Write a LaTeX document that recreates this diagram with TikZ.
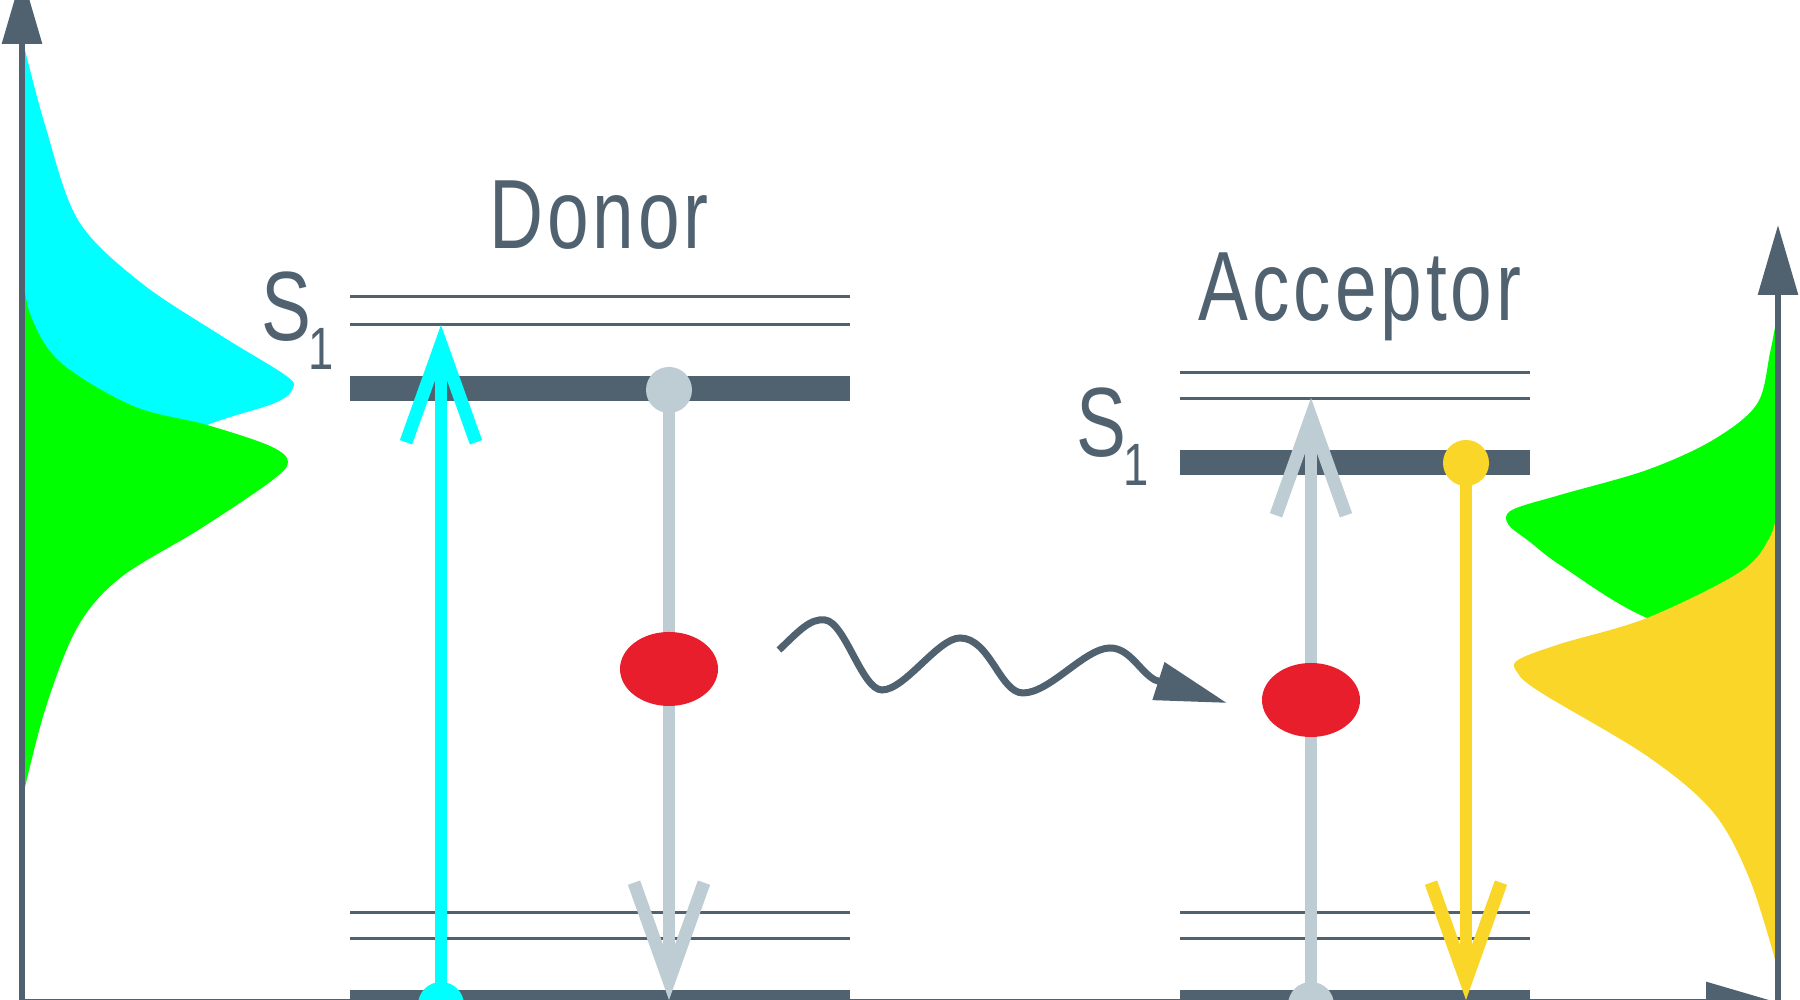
\documentclass[tikz,border=0pt]{standalone}
\usepackage{fontspec}
\setmainfont[FakeStretch=0.76,LetterSpace=4]{Liberation Sans}
\usetikzlibrary{arrows.meta}
\definecolor{slate}{HTML}{506270}
\definecolor{mist}{HTML}{BECCD4}
\definecolor{aqua}{HTML}{00FFFF}
\definecolor{specgreen}{HTML}{00FF00}
\definecolor{sun}{HTML}{F9D627}
\definecolor{blob}{HTML}{E81E2D}

\begin{document}
\begin{tikzpicture}[line join=miter,
  vib/.style={slate,line width=0.03cm},
  band/.style={slate,line width=0.25cm},
  ordinate/.style={slate,line width=0.06cm,-{Triangle[length=0.70cm,width=0.39cm]}},
  trans/.style={line width=0.12cm,-{Straight Barb[length=0.98cm,width=0.70cm,line width'=0.13cm]}},
  bead/.style={circle,inner sep=0pt,minimum size=0.46cm},
  big/.style={text=slate,inner sep=0pt,font=\fontsize{28}{28}\selectfont}]
  \useasboundingbox (0,0) rectangle (18,10);
  \clip (0,0) rectangle (18,10);

  % donor spectra (absorption, emission)
  \fill[aqua] plot[smooth,tension=0.55] coordinates {(0.22,9.62) (0.45,8.75) (0.78,7.80)
    (1.40,7.18) (2.20,6.65) (2.85,6.25) (2.93,6.12) (2.75,5.97) (2.07,5.75) (1.00,5.30)
    (0.22,4.50)} -- cycle;
  \fill[specgreen] plot[smooth,tension=0.55] coordinates {(0.22,7.35) (0.30,6.86) (0.60,6.38)
    (1.33,5.94) (2.07,5.75) (2.70,5.54) (2.88,5.38) (2.70,5.18) (2.00,4.71) (1.20,4.22)
    (0.77,3.72) (0.45,2.90) (0.22,2.00)} -- cycle;

  % acceptor spectra
  \fill[specgreen] plot[smooth,tension=0.55] coordinates {(17.78,6.90) (17.70,6.47) (17.57,5.96)
    (17.13,5.60) (16.47,5.30) (15.60,5.05) (15.12,4.90) (15.08,4.76) (15.30,4.58) (15.63,4.33)
    (16.47,3.82) (17.78,3.40)} -- cycle;
  \fill[sun] plot[smooth,tension=0.55] coordinates {(17.78,4.95) (17.70,4.63) (17.40,4.28)
    (16.47,3.82) (15.60,3.56) (15.18,3.40) (15.17,3.28) (15.40,3.08) (16.47,2.44) (17.13,1.88)
    (17.50,1.20) (17.78,0.30)} -- cycle;

  % axes
  \coordinate (o1) at (0.22,-0.10);
  \coordinate (y1) at (0.22,10.26);
  \coordinate (o2) at (17.78,-0.10);
  \coordinate (y2) at (17.78,7.75);
  \coordinate (xo) at (0.22,-0.02);
  \coordinate (xe) at (17.76,-0.02);
  \draw[ordinate] (o1) -- (y1);
  \draw[ordinate] (o2) -- (y2);
  \draw[ordinate] (xo) -- (xe);

  % levels
  \foreach \y in {7.03,6.75,0.87,0.61}
    \draw[vib] (3.50,\y) -- (8.50,\y);
  \foreach \y in {6.27,6.01,0.87,0.61}
    \draw[vib] (11.80,\y) -- (15.30,\y);
  \draw[band] (3.50,6.11) -- (8.50,6.11);
  \draw[band] (3.50,-0.025) -- (8.50,-0.025);
  \draw[band] (11.80,5.37) -- (15.30,5.37);
  \draw[band] (11.80,-0.025) -- (15.30,-0.025);

  % transitions
  \node[bead,fill=aqua] (dlow) at (4.41,-0.05) {};
  \node[bead,fill=mist] (dup) at (6.69,6.10) {};
  \node[bead,fill=mist] (alow) at (13.11,-0.05) {};
  \node[bead,fill=sun] (aup) at (14.66,5.37) {};
  \coordinate (dabs) at (4.41,6.75);
  \coordinate (dem) at (6.69,0.00);
  \coordinate (aabs) at (13.11,6.02);
  \coordinate (aem) at (14.66,0.00);
  \draw[trans,aqua] (dlow.center) -- (dabs);
  \draw[trans,mist] (dup.center) -- (dem);
  \draw[trans,mist] (alow.center) -- (aabs);
  \draw[trans,sun] (aup.center) -- (aem);
  \fill[blob] (6.69,3.31) ellipse [x radius=0.49,y radius=0.37];
  \fill[blob] (13.11,3.00) ellipse [x radius=0.49,y radius=0.37];

  % energy transfer
  \coordinate (ws) at (7.79,3.50);
  \coordinate (we) at (12.27,2.97);
  \draw[slate,line width=0.07cm,-{Triangle[length=0.72cm,width=0.38cm]}]
    (ws) .. controls (7.98,3.68) and (8.10,3.82) .. (8.25,3.80)
    .. controls (8.45,3.78) and (8.62,3.10) .. (8.82,3.10)
    .. controls (9.05,3.10) and (9.38,3.62) .. (9.60,3.62)
    .. controls (9.90,3.62) and (10.00,3.07) .. (10.23,3.07)
    .. controls (10.50,3.07) and (10.85,3.52) .. (11.10,3.52)
    .. controls (11.30,3.52) and (11.40,3.28) .. (11.55,3.20) -- (we);

  \node[big,anchor=base] (donor) at (5.99,7.51) {Donor};
  \node[big,anchor=base] (acceptor) at (13.60,6.79) {Acceptor};
  \node[big,anchor=base east] (ds) at (3.34,6.59) {S\kern-1pt\raisebox{-0.29cm}{\fontsize{17}{17}\selectfont 1}};
  \node[big,anchor=base east] (as) at (11.49,5.43) {S\kern-1pt\raisebox{-0.29cm}{\fontsize{17}{17}\selectfont 1}};
\end{tikzpicture}
\end{document}
